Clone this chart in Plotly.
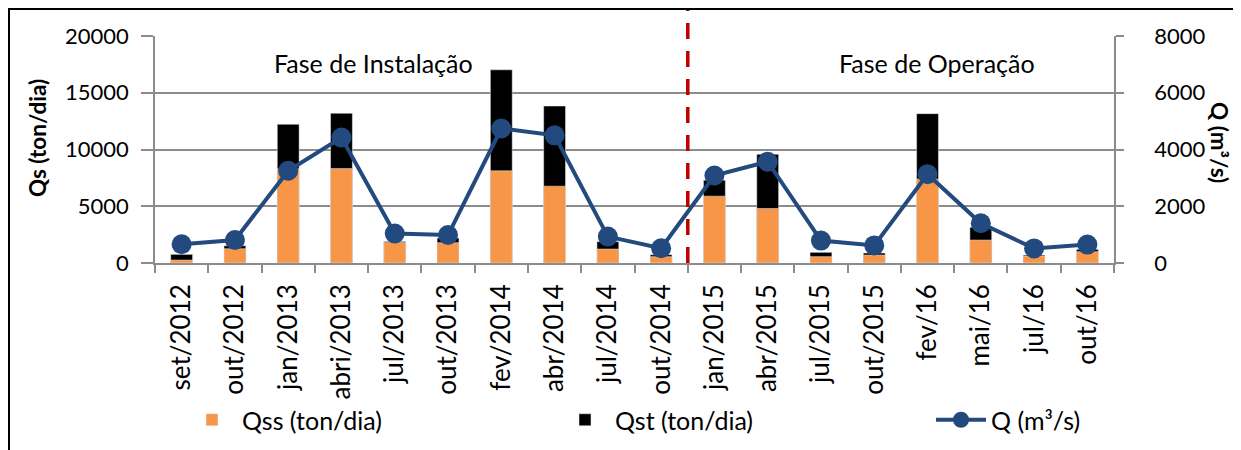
import plotly.graph_objects as go

categories = ["set/2012", "out/2012", "jan/2013", "abri/2013", "jul/2013", "out/2013",
              "fev/2014", "abr/2014", "jul/2014", "out/2014", "jan/2015", "abr/2015",
              "jul/2015", "out/2015", "fev/16", "mai/16", "jul/16", "out/16"]
qst = [760, 1520, 12220, 13190, 1900, 2200, 17020, 13830, 1880, 730,
       7300, 9580, 940, 880, 13160, 3140, 700, 1200]
qss = [260, 1260, 8300, 8320, 1820, 1790, 8120, 6770, 1230, 560,
       5890, 4800, 560, 700, 7400, 2020, 620, 1000]
q = [660, 810, 3250, 4420, 1040, 985, 4740, 4500, 930, 520,
     3085, 3570, 790, 620, 3130, 1400, 515, 650]
left_ticks = [0, 5000, 10000, 15000, 20000]
right_ticks = [0, 2000, 4000, 6000, 8000]

FONT = "Lato"
OFF = 8  # page body margin offset
# plot area in page pixels
PX0, PX1, PY0, PY1 = 155, 1114, 36, 263
W, H = 1241 - OFF, 450 - OFF
L, R, T, B = PX0 - OFF, 1241 - PX1, PY0 - OFF, 450 - PY1
pw, ph = PX1 - PX0, PY1 - PY0


def xp(x):
    return (x - PX0) / pw


def yp(y):
    return (PY1 - y) / ph


fig = go.Figure()
fig.add_trace(go.Bar(x=categories, y=qst, name="Qst (ton/dia)", marker_color="#000000",
                     width=0.41, yaxis="y", legend="legend2"))
fig.add_trace(go.Bar(x=categories, y=qss, name="Qss (ton/dia)", marker_color="#F79646",
                     width=0.41, yaxis="y", legend="legend"))
fig.add_trace(go.Scatter(x=categories, y=q, name="Q (m³/s)", mode="lines+markers",
                         line=dict(color="#234A7E", width=4),
                         marker=dict(color="#234A7E", size=20), yaxis="y2",
                         legend="legend3"))

grid = "#8C8C8C"


def leg(xpix):
    return dict(orientation="h", x=xp(xpix), xanchor="left", y=yp(420),
                yanchor="middle", font=dict(size=25), itemwidth=50,
                bgcolor="rgba(0,0,0,0)")


fig.update_layout(
    width=W, height=H,
    margin=dict(l=L, r=R, t=T, b=B, autoexpand=False),
    paper_bgcolor="white", plot_bgcolor="white",
    barmode="overlay",
    font=dict(family=FONT, size=22, color="#000000"),
    xaxis=dict(type="category", showline=True, linecolor=grid, linewidth=1.5,
               ticks="outside", tickson="boundaries", ticklen=8, tickcolor=grid,
               tickwidth=1.5, tickangle=-90, tickfont=dict(size=26),
               range=[-0.5, 17.5], showgrid=False, ticklabelstandoff=9,
               automargin=False),
    yaxis=dict(range=[0, 20000], tickvals=left_ticks,
               ticktext=[str(v) for v in left_ticks], showgrid=True, gridcolor=grid,
               gridwidth=1.5, showline=True, linecolor=grid, linewidth=1.5,
               ticks="outside", ticklen=12, tickcolor=grid, tickwidth=1.5,
               tickfont=dict(size=22), zeroline=False, ticklabelstandoff=8,
               automargin=False),
    yaxis2=dict(range=[0, 8000], tickvals=right_ticks,
                ticktext=[str(v) for v in right_ticks], overlaying="y", side="right",
                showgrid=False, showline=True, linecolor=grid, linewidth=1.5,
                ticks="outside", ticklen=8, tickcolor=grid, tickwidth=1.5,
                tickfont=dict(size=22), zeroline=False, ticklabelstandoff=26,
                automargin=False),
    legend=leg(182),
    legend2=leg(555),
    legend3=leg(931),
    showlegend=True,
)

fig.add_shape(type="line", xref="x", yref="paper", x0=9.5, x1=9.5, y0=0,
              y1=yp(9), line=dict(color="#C00000", width=3.5, dash="16px,12px"))
fig.add_shape(type="rect", xref="paper", yref="paper",
              x0=xp(9), x1=xp(1270), y0=yp(480), y1=yp(9),
              line=dict(color="#000000", width=2), fillcolor="rgba(0,0,0,0)")

fig.add_annotation(text="Fase de Instalação", xref="paper", yref="paper",
                   x=xp(373), y=yp(63), showarrow=False,
                   font=dict(size=25), xanchor="center", yanchor="middle")
fig.add_annotation(text="Fase de Operação", xref="paper", yref="paper",
                   x=xp(937), y=yp(63), showarrow=False,
                   font=dict(size=25), xanchor="center", yanchor="middle")
fig.add_annotation(text="<b>Qs (ton/dia)</b>", xref="paper", yref="paper",
                   x=xp(37), y=yp(138), showarrow=False, textangle=-90,
                   font=dict(size=22.5), xanchor="center", yanchor="middle")
fig.add_annotation(text="<b>Q (m³/s)</b>", xref="paper", yref="paper",
                   x=xp(1220), y=yp(142), showarrow=False, textangle=90,
                   font=dict(size=22.5), xanchor="center", yanchor="middle")

fig.write_html("out.html")
